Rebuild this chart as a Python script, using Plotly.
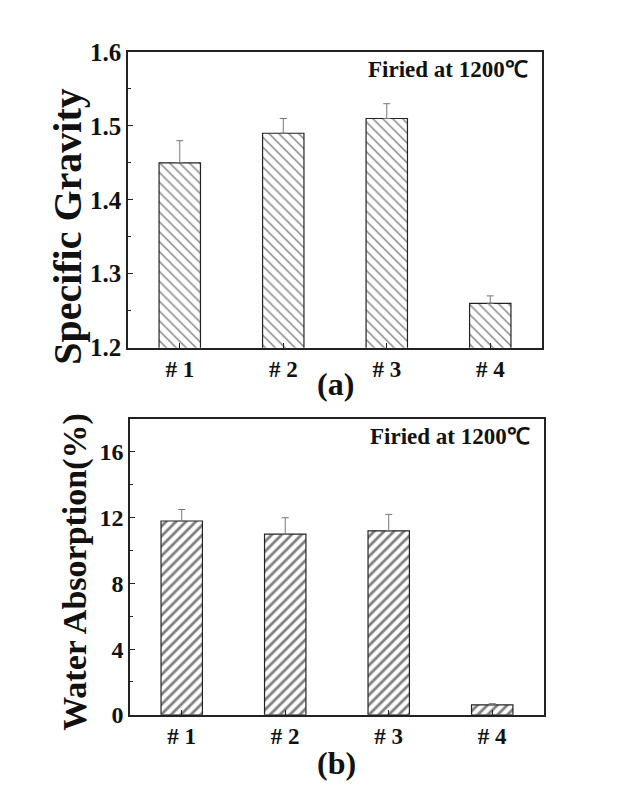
import plotly.graph_objects as go

samples = ["# 1", "# 2", "# 3", "# 4"]

gravity = [1.45, 1.49, 1.51, 1.26]
gravity_err = [0.03, 0.02, 0.02, 0.01]

absorption = [11.8, 11.0, 11.2, 0.6]
absorption_err = [0.7, 1.0, 1.0, 0.08]

note = "Firied at 1200℃"
font = "Liberation Serif, Times New Roman, serif"

fig = go.Figure()

# (a) specific gravity
fig.add_trace(go.Bar(
    x=samples, y=gravity, width=0.4,
    marker=dict(color="white", line=dict(color="#222", width=1.2),
                pattern=dict(shape="\\", fgcolor="#000", size=7, solidity=0.2)),
    error_y=dict(type="data", symmetric=False, array=gravity_err, arrayminus=[0] * 4,
                 color="#777", thickness=1, width=3.5),
    xaxis="x", yaxis="y", showlegend=False,
))

# (b) water absorption
fig.add_trace(go.Bar(
    x=samples, y=absorption, width=0.4,
    marker=dict(color="white", line=dict(color="#222", width=1.2),
                pattern=dict(shape="/", fgcolor="#000", size=7, solidity=0.4)),
    error_y=dict(type="data", symmetric=False, array=absorption_err, arrayminus=[0] * 4,
                 color="#777", thickness=1, width=3.5),
    xaxis="x2", yaxis="y2", showlegend=False,
))

axis_common = dict(showline=True, linecolor="#222", linewidth=1.5, mirror=True,
                   ticks="inside", tickcolor="#222", showgrid=False, zeroline=False,
                   tickprefix="<b>", ticksuffix="</b>")

fig.update_layout(
    width=634, height=801,
    margin=dict(l=0, r=0, t=0, b=0),
    paper_bgcolor="white", plot_bgcolor="white",
    font=dict(family=font, color="#111"),
    xaxis=dict(domain=[0.1893, 0.8423], anchor="y", range=[-0.5, 3.5], ticklen=5,
               tickfont=dict(family=font, size=23, color="#111"), **axis_common),
    yaxis=dict(domain=[0.578, 0.960], anchor="x", range=[1.2, 1.6], dtick=0.1,
               tickformat=".1f", ticklen=5,
               minor=dict(dtick=0.05, ticks="inside", ticklen=3, tickcolor="#222"),
               tickfont=dict(family=font, size=25, color="#111"), **axis_common),
    xaxis2=dict(domain=[0.1924, 0.8454], anchor="y2", range=[-0.5, 3.5], ticklen=5,
                tickfont=dict(family=font, size=23, color="#111"), **axis_common),
    yaxis2=dict(domain=[0.1036, 0.4856], anchor="x2", range=[0, 18], dtick=4, ticklen=5,
                minor=dict(dtick=2, ticks="inside", ticklen=3, tickcolor="#222"),
                tickfont=dict(family=font, size=24, color="#111"), **axis_common),
)

# axis titles placed as rotated annotations
fig.add_annotation(xref="paper", yref="paper", x=0.0946, y=0.7353, textangle=-90,
                   xanchor="center", yanchor="middle",
                   text="<b>Specific Gravity</b>", showarrow=False,
                   font=dict(family=font, size=40, color="#111"))
fig.add_annotation(xref="paper", yref="paper", x=0.1057, y=0.2884, textangle=-90,
                   xanchor="center", yanchor="middle",
                   text="<b>Water Absorption(%)</b>", showarrow=False,
                   font=dict(family=font, size=34, color="#111"))

for xref, yref, label, ly in [("x domain", "y domain", "(a)", -0.055),
                              ("x2 domain", "y2 domain", "(b)", -0.095)]:
    fig.add_annotation(xref=xref, yref=yref, x=0.972, y=0.99, xanchor="right", yanchor="top",
                       text="<b>" + note + "</b>", showarrow=False,
                       font=dict(family=font, size=23, color="#111"))
    fig.add_annotation(xref=xref, yref=yref, x=0.5, y=ly, xanchor="center", yanchor="top",
                       text="<b>" + label + "</b>", showarrow=False,
                       font=dict(family=font, size=32, color="#111"))

fig.write_html("out.html")
